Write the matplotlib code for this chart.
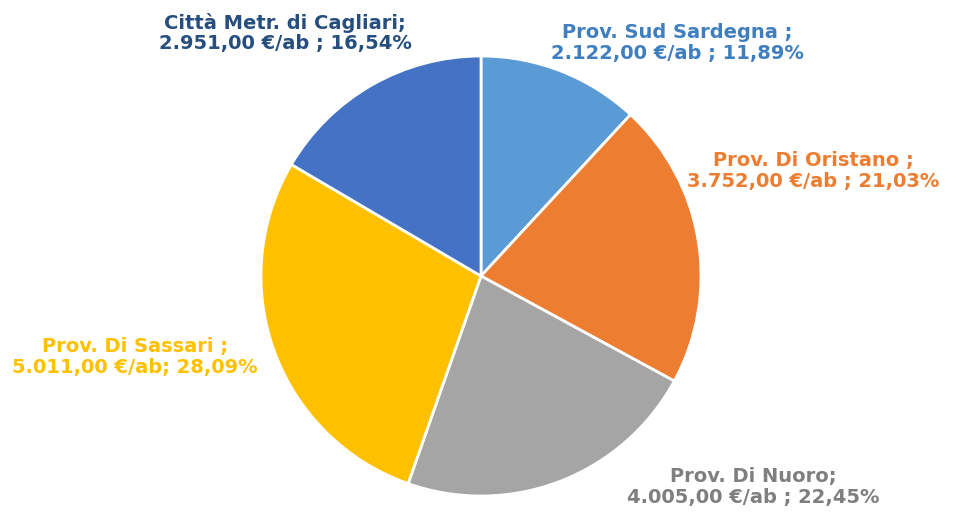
import matplotlib
matplotlib.use("Agg")
import matplotlib.pyplot as plt

categories = ["Prov. Sud Sardegna", "Prov. Di Oristano", "Prov. Di Nuoro",
              "Prov. Di Sassari", "Città Metr. di Cagliari"]
values = [2122.00, 3752.00, 4005.00, 5011.00, 2951.00]
labels = ["Prov. Sud Sardegna ;\n2.122,00 €/ab ; 11,89%",
          "Prov. Di Oristano ;\n3.752,00 €/ab ; 21,03%",
          "Prov. Di Nuoro;\n4.005,00 €/ab ; 22,45%",
          "Prov. Di Sassari ;\n5.011,00 €/ab; 28,09%",
          "Città Metr. di Cagliari;\n2.951,00 €/ab ; 16,54%"]
colors = ["#5B9BD5", "#ED7D31", "#A5A5A5", "#FFC000", "#4472C4"]
label_colors = ["#3F7FC0", "#ED7D31", "#7F7F7F", "#FFC000", "#264E7E"]
label_pos = [(677, 43), (813, 171), (753, 487), (135, 357), (285, 33)]

W, H = 954, 512
fig = plt.figure(figsize=(W / 100, H / 100), dpi=100)
fig.patch.set_facecolor("white")
cx, cy, r = 481, 276, 220
ax = fig.add_axes([(cx - r) / W, (H - cy - r) / H, 2 * r / W, 2 * r / H])
ax.pie(values, colors=colors, startangle=90, counterclock=False,
       wedgeprops=dict(edgecolor="white", linewidth=2), radius=1)
ax.set_xlim(-1, 1)
ax.set_ylim(-1, 1)
ax.set_aspect("equal")
ax.axis("off")

for lab, col, (x, y) in zip(labels, label_colors, label_pos):
    fig.text(x / W, 1 - y / H, lab, ha="center", va="center", color=col,
             fontsize=14, fontweight="bold", family=["DejaVu Sans"],
             linespacing=1.12)

fig.savefig("out.png", dpi=100, facecolor="white")
